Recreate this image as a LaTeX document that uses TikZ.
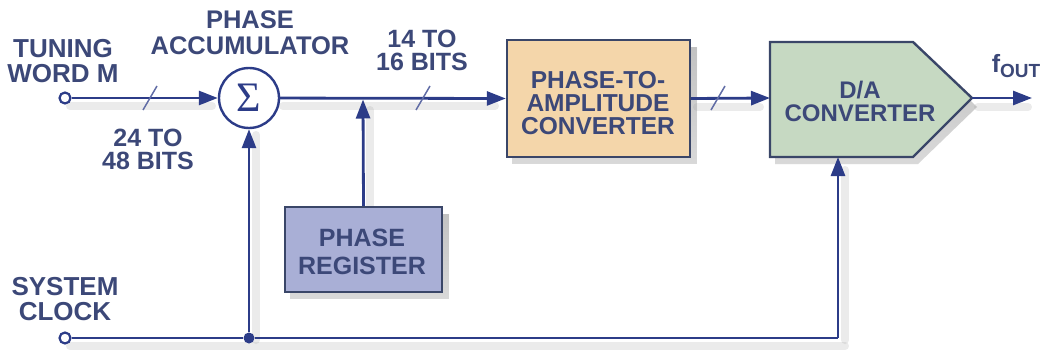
\documentclass[tikz,border=0pt]{standalone}
\usepackage{fontspec}
\setmainfont{Liberation Sans}
\newfontfamily\sigmafont{Liberation Serif}
\usetikzlibrary{arrows.meta,calc}
\definecolor{wire}{HTML}{2C3C88}
\definecolor{txt}{HTML}{3C4878}
\definecolor{edge}{HTML}{3A4668}
\definecolor{ptafill}{HTML}{F4D6AA}
\definecolor{dacfill}{HTML}{C6D9C2}
\definecolor{regfill}{HTML}{A9AFD6}
\definecolor{shade}{HTML}{9A9A9A}
\tikzset{
  lbl/.style={text=txt,font=\bfseries\fontsize{26}{25}\selectfont,align=center,inner sep=0pt},
  wireline/.style={draw=wire,line width=2.8pt},
  arr/.style={wireline,-{Triangle[length=19pt,width=14pt]}},
  shadowline/.style={draw=shade,line width=8pt,opacity=0.2,line cap=round},
  port/.style={circle,draw=wire,fill=white,line width=2.2pt,minimum size=11pt,inner sep=0pt},
  jdot/.style={circle,fill=wire,minimum size=11pt,inner sep=0pt},
  sumnode/.style={circle,draw=wire,line width=2.4pt,fill=white,minimum size=60pt,inner sep=0pt,text=wire},
  blockbox/.style={draw=edge,line width=2.4pt,inner sep=0pt},
  slashmark/.style={draw=wire!75,line width=1.5pt}
}
\begin{document}
\begin{tikzpicture}[x=1pt,y=-1pt]
\useasboundingbox (0,0) rectangle (1050,356);

% shadows
\fill[shade,opacity=0.18] (512,47) rectangle (697,164);
\fill[shade,opacity=0.18] (775,49) -- (918,49) -- (977,107) -- (918,164) -- (775,164) -- cycle;
\fill[shade,opacity=0.18] (290,214) rectangle (449,299);
\draw[shadowline] (70,106) -- (212,106);
\draw[shadowline] (283,106) -- (495,106);
\draw[shadowline] (697,107) -- (760,107);
\draw[shadowline] (978,107) -- (1028,107);
\draw[shadowline] (70,346) -- (845,346);
\draw[shadowline] (256,135) -- (256,340);
\draw[shadowline] (370,110) -- (370,205);
\draw[shadowline] (845,170) -- (845,340);

% nodes
\node[port] (tw) at (65,98) {};
\node[port] (clk) at (65,338) {};
\node[jdot] (jn) at (249,338) {};
\node[sumnode] (sig) at (249,98) {\sigmafont\fontsize{42}{42}\selectfont\raisebox{1pt}{Σ}};
\node[blockbox,fill=ptafill,minimum width=183pt,minimum height=117pt] (pta) at (598.5,98.5) {};
\node[lbl,font=\bfseries\fontsize{24.5}{23}\selectfont] (ptatext) at (598,103) {PHASE-TO-\\AMPLITUDE\\CONVERTER};
\node[blockbox,fill=regfill,minimum width=157pt,minimum height=85pt] (reg) at (363.5,249.5) {};
\node[lbl,font=\bfseries\fontsize{25}{28}\selectfont] (regtext) at (362,251.5) {PHASE\\REGISTER};

% DAC
\coordinate (dacW) at (770,98);
\coordinate (dacE) at (972,98);
\coordinate (dacS) at (838,157);
\draw[blockbox,fill=dacfill] (770,42) -- (913,42) -- (dacE) -- (913,157) -- (770,157) -- cycle;
\node[lbl,font=\bfseries\fontsize{24}{23}\selectfont] (dactext) at (860,101.5) {D/A\\CONVERTER};

% labels
\node[lbl] (twl) at (63,61.5) {TUNING\\WORD M};
\node[lbl,font=\bfseries\fontsize{25.5}{26}\selectfont] (pal) at (250,33) {PHASE\\ACCUMULATOR};
\node[lbl,font=\bfseries\fontsize{25}{23}\selectfont] (b24) at (148,149) {24 TO\\48 BITS};
\node[lbl,font=\bfseries\fontsize{25}{23}\selectfont] (b14) at (422,50) {14 TO\\16 BITS};
\node[lbl] (clkl) at (65,299) {SYSTEM\\CLOCK};
\node[text=txt,font=\bfseries\fontsize{25}{25}\selectfont,inner sep=0pt] (fo) at (1016,66) {f\raisebox{-5pt}{\fontsize{19}{19}\selectfont OUT}};

% connectors
\coordinate (tap) at (363,98);
\coordinate (fend) at (1032,98);
\coordinate (clkturn) at (838,338);
\draw[arr] (tw) -- (sig);
\draw[arr] (sig) -- (pta.west);
\draw[arr] (reg.north) -- ($(tap)+(0,1.5)$);
\draw[arr] (pta.east) -- (dacW);
\draw[arr] (dacE) -- (fend);
\draw[wireline] (clk) -- (jn) -- (clkturn);
\draw[arr] (clkturn) -- (dacS);
\draw[arr] (jn) -- (sig);

% bus slashes
\draw[slashmark] (143,110) -- (157,86);
\draw[slashmark] (416,110) -- (430,86);
\draw[slashmark] (711,110) -- (725,86);
\end{tikzpicture}
\end{document}
